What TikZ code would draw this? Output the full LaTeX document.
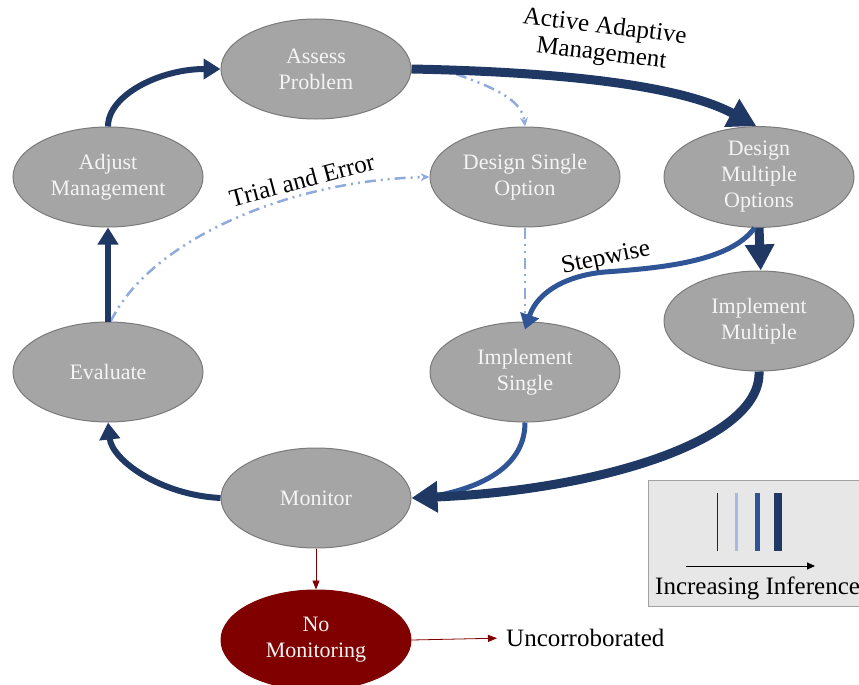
\documentclass[tikz,border=0pt]{standalone}
\usepackage{fontspec}
\setmainfont{Liberation Serif}
\usetikzlibrary{shapes.geometric,arrows.meta}
\definecolor{navy}{HTML}{1F3864}
\definecolor{midblue}{HTML}{2F5597}
\definecolor{lightblue}{HTML}{8FAADC}
\definecolor{dkred}{HTML}{800000}
\definecolor{ellfill}{HTML}{A5A5A5}
\definecolor{ellline}{HTML}{7A7A7A}
\definecolor{elltext}{HTML}{F4F4F4}
\definecolor{legfill}{HTML}{E7E7E7}
\tikzset{
  stage/.style={ellipse, draw=ellline, line width=1pt, fill=ellfill, minimum width=190pt, minimum height=100pt, inner sep=0pt, align=center, text=elltext, font=\fontsize{22}{26}\selectfont},
  lbl/.style={align=center, font=\fontsize{25}{27}\selectfont, inner sep=0pt},
  heavy/.style={draw=navy, line width=9pt, -{Triangle[length=28pt,width=30pt]}},
  strong/.style={draw=navy, line width=6pt, -{Triangle[length=17pt,width=20pt]}},
  medium/.style={draw=midblue, line width=5pt, -{Triangle[length=15pt,width=19pt]}},
  weak/.style={draw=lightblue, line width=2.5pt, dash pattern=on 11pt off 5pt on 2pt off 5pt on 2pt off 5pt, -{Stealth[length=9pt,width=8pt]}},
  thinred/.style={draw=dkred, line width=0.8pt, -{Triangle[length=9pt,width=7pt]}}
}
\begin{document}
\begin{tikzpicture}[x=1pt,y=-1pt]
\useasboundingbox (0,0) rectangle (859,685);
% nodes
\node[stage] (assess) at (316,69) {Assess\\Problem};
\node[stage] (adjust) at (108,177) {Adjust\\Management};
\node[stage] (dsingle) at (525,177) {Design Single\\Option};
\node[stage] (dmult) at (759,177) {Design\\Multiple\\Options};
\node[stage] (imult) at (759,321) {Implement\\Multiple};
\node[stage] (eval) at (108,372) {Evaluate};
\node[stage] (isingle) at (525,372) {Implement\\Single};
\node[stage] (monitor) at (316,498) {Monitor};
\node[stage, fill=dkred, draw=dkred] (nomon) at (316,640) {No\\Monitoring};
\node[lbl, anchor=west] (unc) at (506,638) {Uncorroborated};
% labels
\node[lbl, rotate=-7] (aamlab) at (603,41) {Active Adaptive\\Management};
\node[lbl, rotate=15] (telab) at (302,180) {Trial and Error};
\node[lbl, rotate=12] (swlab) at (606,259) {Stepwise};
% connectors
\coordinate (tap) at (456,74);
\draw[weak] (tap) .. controls (495,88) and (522,100) .. (dsingle.north);
\draw[weak] (eval.87) .. controls (150,240) and (290,180) .. (dsingle.west);
\draw[weak] (dsingle.south) -- (isingle.north);
\draw[heavy] (assess.east) .. controls (560,72) and (680,85) .. (dmult.93);
\draw[heavy, -{Triangle[length=26pt,width=28pt]}] (dmult.-90) -- (imult.88);
\draw[strong] (adjust.north) .. controls (108,95) and (160,69) .. (assess.west);
\draw[strong] (eval.north) -- (adjust.south);
\draw[strong] (monitor.west) .. controls (160,495) and (112,460) .. (eval.south);
\draw[medium] (dmult.-95) .. controls (730,262) and (660,268) .. (605,272)
  .. controls (570,275) and (538,290) .. ([yshift=-8pt]isingle.north);
\draw[medium, -] (isingle.south) .. controls (525,462) and (490,488) .. ([xshift=12pt]monitor.east);
\draw[heavy, -{Triangle[length=26pt,width=30pt]}] (imult.south) .. controls (762,440) and (600,490) .. (monitor.east);
\draw[thinred] (monitor.south) -- (nomon.north);
\draw[thinred, shorten >=9pt] (nomon.east) -- (unc.west);
% legend
\draw[draw=ellline!70, fill=legfill, line width=0.8pt] (648,480) rectangle (866,606);
\draw[dkred, line width=1pt] (717,493) -- (717,551);
\draw[lightblue!80, line width=3pt] (736,493) -- (736,551);
\draw[midblue, line width=5pt] (757,493) -- (757,551);
\draw[navy, line width=8.5pt] (778,493) -- (778,551);
\draw[black, line width=1pt, -{Triangle[length=8pt,width=7pt]}] (686,566) -- (815,566);
\node[lbl, anchor=west] (leglab) at (655,588) {Increasing Inference};
\end{tikzpicture}
\end{document}
